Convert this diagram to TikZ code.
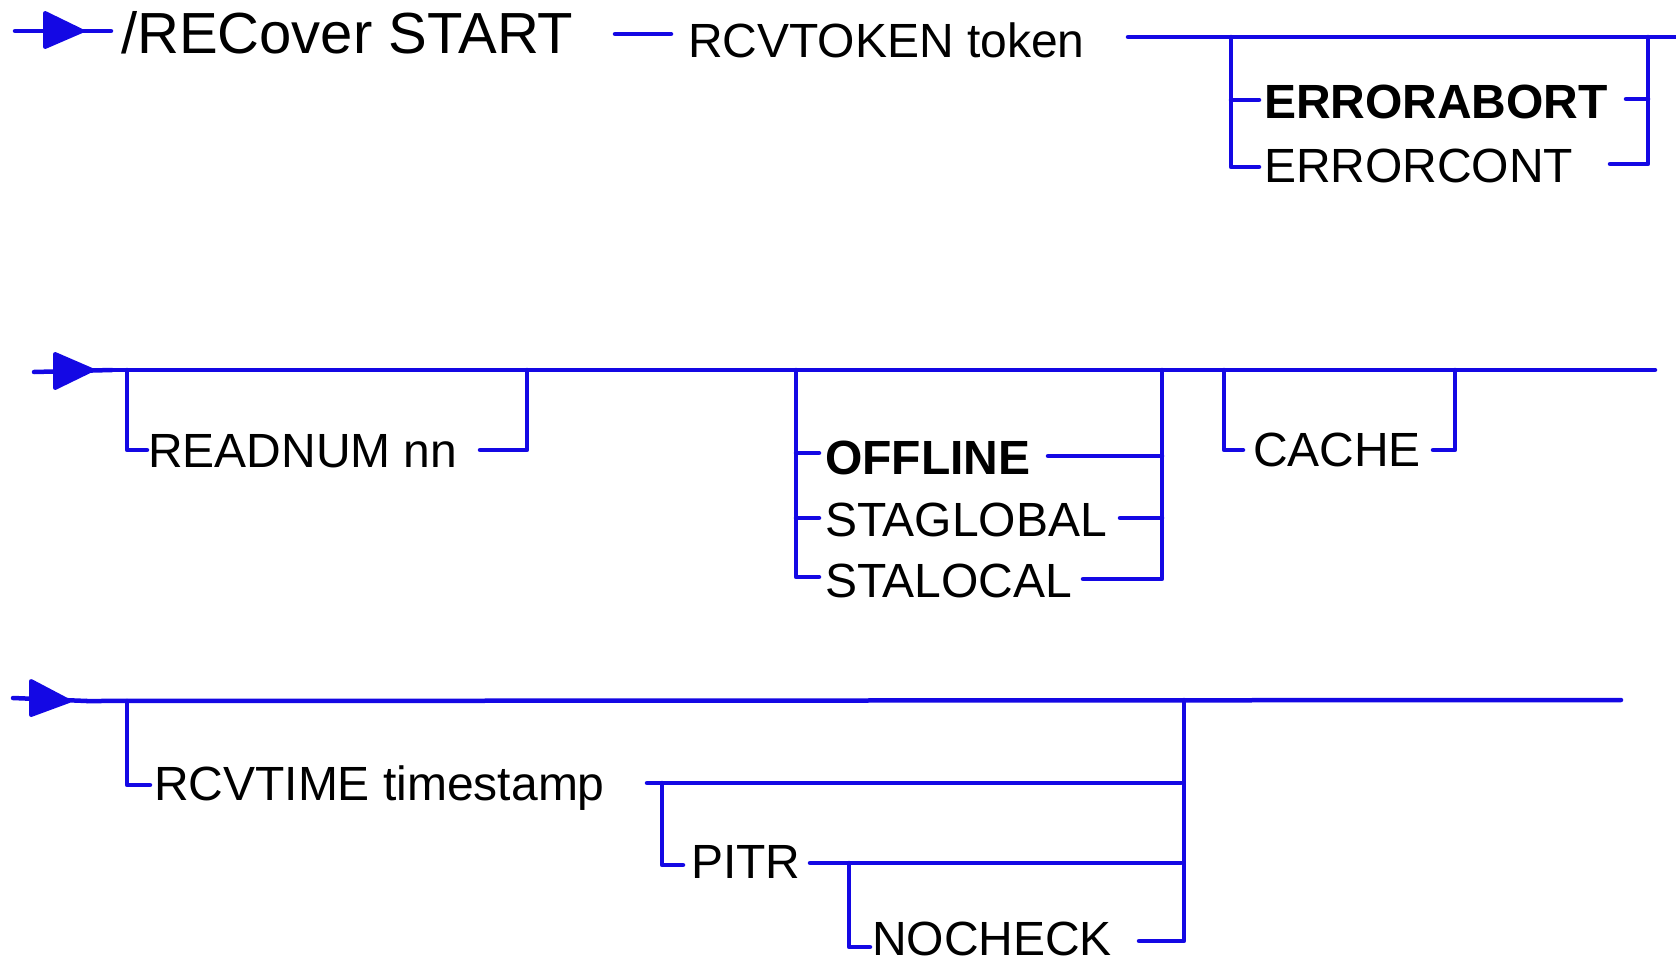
\documentclass[tikz,border=0pt]{standalone}
\usepackage{fontspec}
\setmainfont{Liberation Sans}
\definecolor{rrblue}{RGB}{20,8,228}
\tikzset{
  rr/.style={draw=rrblue, line width=4.5pt, line cap=round, line join=round},
  head/.style={fill=rrblue, draw=rrblue, line width=4pt, line join=round},
  lbl/.style={anchor=base west, inner sep=0pt, outer sep=0pt, text=black, font=\fontsize{48}{58}\selectfont},
  lblb/.style={lbl, font=\fontsize{48}{58}\selectfont\bfseries},
}
\begin{document}
\begin{tikzpicture}[x=1pt,y=-1pt]
\useasboundingbox (0,0) rectangle (1676,964);
% ---------- row 1
\coordinate (a1s) at (15,31); \coordinate (a1e) at (111,31);
\draw[rr] (a1s) -- (a1e);
\filldraw[head] (45,13) -- (82,31) -- (45,47) -- cycle;
\node[lbl, font=\fontsize{58}{70}\selectfont] (title) at (121,53) {/RECover START};
\coordinate (t1) at (615,34); \coordinate (t2) at (671,34);
\draw[rr] (t1) -- (t2);
\node[lbl] (tok) at (688,57) {RCVTOKEN token};
\coordinate (m1s) at (1128,37); \coordinate (m1e) at (1680,37);
\draw[rr] (m1s) -- (m1e);
\node[lblb] (eabort) at (1264,118) {ERRORABORT};
\node[lbl] (econt) at (1264,182) {ERRORCONT};
\draw[rr] (1231,37) -- (1231,167) -- (1259,167);
\draw[rr] (1231,100) -- (1259,100);
\draw[rr] (1626,99) -- (1648,99);
\draw[rr] (1648,37) -- (1648,164) -- (1610,164);
% ---------- row 2
\draw[rr] (34,372) -- (112,370);
\filldraw[head] (55,354) -- (92,370) -- (55,388) -- cycle;
\coordinate (m2s) at (112,370); \coordinate (m2e) at (1655,370);
\draw[rr] (m2s) -- (m2e);
\node[lbl] (readnum) at (148,467) {READNUM nn};
\draw[rr] (127,370) -- (127,450) -- (147,450);
\draw[rr] (480,450) -- (527,450) -- (527,370);
\node[lblb] (offline) at (825,474) {OFFLINE};
\node[lbl] (stag) at (825,536) {STAGLOBAL};
\node[lbl] (stal) at (825,597) {STALOCAL};
\draw[rr] (796,370) -- (796,577) -- (819,577);
\draw[rr] (796,453) -- (819,453);
\draw[rr] (796,518) -- (819,518);
\draw[rr] (1048,456) -- (1162,456);
\draw[rr] (1120,518) -- (1162,518);
\draw[rr] (1162,370) -- (1162,579) -- (1083,579);
\node[lbl] (cache) at (1253,466) {CACHE};
\draw[rr] (1224,370) -- (1224,450) -- (1243,450);
\draw[rr] (1433,450) -- (1455,450) -- (1455,370);
% ---------- row 3
\draw[rr] (13,698) -- (87,701);
\filldraw[head] (31,681) -- (69,701) -- (31,715) -- cycle;
\coordinate (m3s) at (87,701); \coordinate (m3e) at (1621,700);
\draw[rr] (m3s) -- (m3e);
\node[lbl] (rcvtime) at (154,800) {RCVTIME timestamp};
\draw[rr] (127,701) -- (127,785) -- (150,785);
\draw[rr] (647,783) -- (1181,783);
\node[lbl] (pitr) at (691,878) {PITR};
\draw[rr] (662,783) -- (662,865) -- (683,865);
\draw[rr] (810,863) -- (1181,863);
\node[lbl] (nocheck) at (872,955) {NOCHECK};
\draw[rr] (849,863) -- (849,947) -- (870,947);
\draw[rr] (1139,941) -- (1184,941) -- (1184,700);
\end{tikzpicture}
\end{document}
